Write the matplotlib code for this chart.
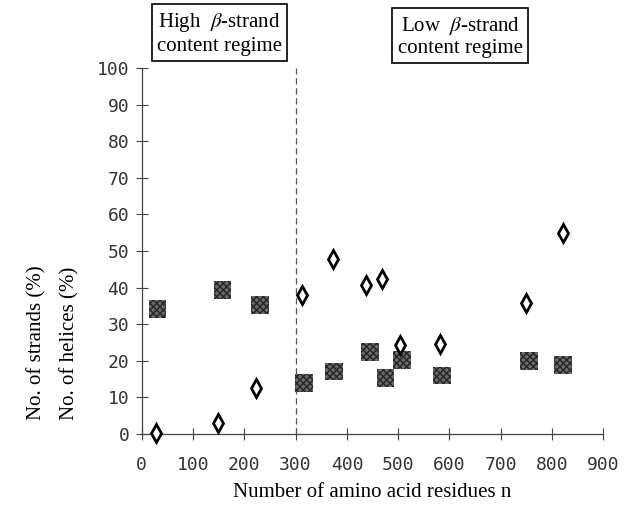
import numpy as np
import matplotlib
matplotlib.use('Agg')
import matplotlib.pyplot as plt

plt.rcParams['mathtext.fontset'] = 'stix'

# squares (filled grey)
sq_n = [31, 157, 231, 316, 375, 445, 475, 507, 586, 755, 822]
sq_pct = [34.2, 39.3, 35.2, 13.9, 17.1, 22.4, 15.3, 20.2, 16.0, 20.0, 18.9]
# open diamonds
dm_n = [28, 148, 223, 313, 372, 437, 469, 503, 582, 749, 821]
dm_pct = [0.2, 2.9, 12.5, 37.9, 47.8, 40.8, 42.3, 24.3, 24.7, 35.7, 54.9]

xticks = list(range(0, 1000, 100))
yticks = list(range(0, 110, 10))
split_n = 300

fig = plt.figure(figsize=(6.33, 5.16), dpi=100)
ax = fig.add_axes([0.224, 0.159, 0.729, 0.709])

ax.scatter(sq_n, sq_pct, marker='s', s=160, facecolor='#6a6a6a',
           edgecolor='#262626', hatch='xxxxx', linewidth=0, zorder=3)
ax.plot(dm_n, dm_pct, linestyle='none', marker='d', markersize=9,
        markerfacecolor='white', markeredgecolor='black',
        markeredgewidth=2.0, zorder=4, clip_on=False)

ax.axvline(split_n, ymin=0, ymax=1.0, color='#555555', linestyle=(0, (5, 3)),
           linewidth=0.9)

ax.set_xlim(0, 900)
ax.set_ylim(0, 100)
ax.set_xticks(xticks)
ax.set_yticks(yticks)
for s in ['top', 'right']:
    ax.spines[s].set_visible(False)
for s in ['left', 'bottom']:
    ax.spines[s].set_color('#444444')
    ax.spines[s].set_linewidth(0.9)
ax.tick_params(direction='inout', length=8, width=0.8, color='#444444',
               labelsize=13, labelcolor='#333333', pad=5)
ax.tick_params(axis='x', pad=12)
for lab in ax.get_xticklabels() + ax.get_yticklabels():
    lab.set_family('DejaVu Sans Mono')
    lab.set_fontweight('light')

ax.set_xlabel('Number of amino acid residues n', family='Liberation Serif',
              fontsize=15, labelpad=6)

fig.text(0.058, 0.335, 'No. of strands (%)', rotation=90, ha='center',
         va='center', family='Liberation Serif', fontsize=15)
fig.text(0.11, 0.335, 'No. of helices (%)', rotation=90, ha='center',
         va='center', family='Liberation Serif', fontsize=15)

box = dict(boxstyle='square,pad=0.25', facecolor='white', edgecolor='black',
           linewidth=1.2)
fig.text(0.347, 0.935, 'High  $\\beta$-strand\ncontent regime', ha='center',
         va='center', family='Liberation Serif', fontsize=15,
         linespacing=1.15, bbox=box)
fig.text(0.727, 0.93, 'Low  $\\beta$-strand\ncontent regime', ha='center',
         va='center', family='Liberation Serif', fontsize=15,
         linespacing=1.15, bbox=box)

fig.savefig('out.png', dpi=100)
